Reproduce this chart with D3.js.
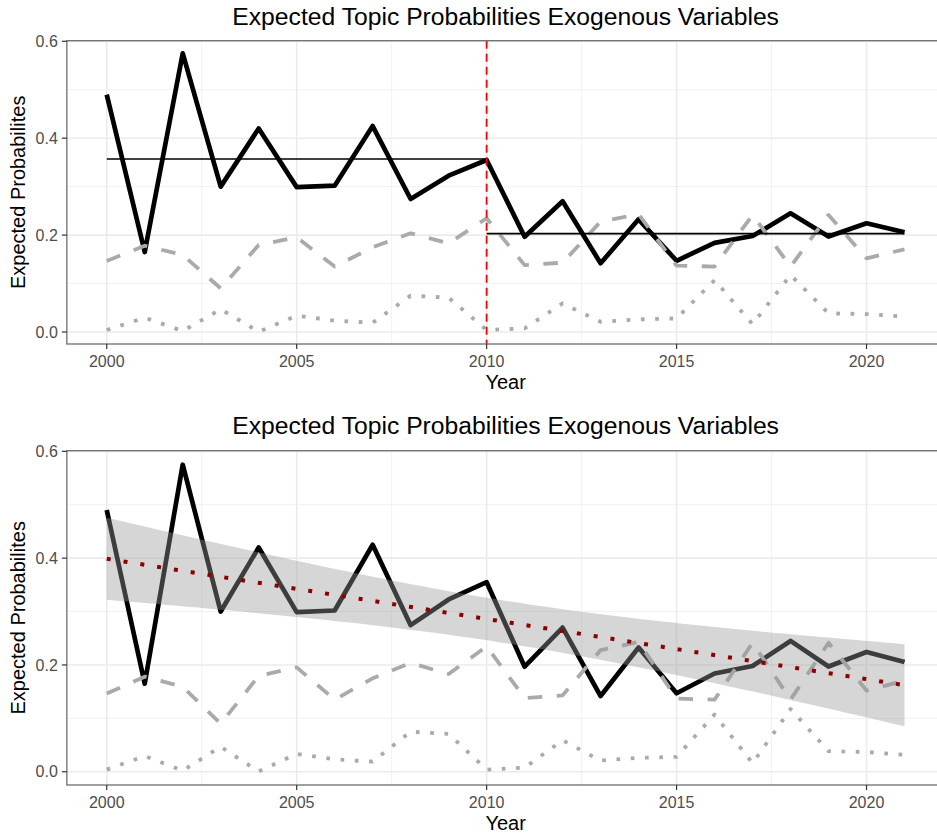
<!DOCTYPE html>
<html>
<head>
<meta charset="utf-8">
<script src="https://cdn.jsdelivr.net/npm/d3@7"></script>
<style>
  html, body { margin: 0; padding: 0; background: #ffffff; }
  svg { display: block; font-family: "Liberation Sans", Arial, sans-serif; }
</style>
</head>
<body>
<svg id="chart" width="937" height="837"></svg>
<script>
// ---- data ----
const years = [2000, 2001, 2002, 2003, 2004, 2005, 2006, 2007, 2008, 2009, 2010,
               2011, 2012, 2013, 2014, 2015, 2016, 2017, 2018, 2019, 2020, 2021];
const topicMain = [0.490, 0.165, 0.575, 0.300, 0.420, 0.299, 0.302, 0.425, 0.2745, 0.3226, 0.355,
                   0.1967, 0.270, 0.1418, 0.2326, 0.147, 0.184, 0.198, 0.245, 0.197, 0.2243, 0.2057];
const topicDashed = [0.1465, 0.178, 0.159, 0.090, 0.1796, 0.1954, 0.135, 0.175, 0.2037, 0.183, 0.2347,
                     0.138, 0.143, 0.2277, 0.243, 0.137, 0.135, 0.2415, 0.135, 0.2415, 0.152, 0.1707];
const topicDotted = [0.004, 0.0295, 0.002, 0.0468, 0.0006, 0.0336, 0.0233, 0.019, 0.075, 0.0708, 0.004,
                     0.0076, 0.059, 0.021, 0.026, 0.028, 0.107, 0.016, 0.1176, 0.0385, 0.037, 0.0316];
// period means (horizontal segments in the first panel)
const periodStart = [2000, 2010];
const periodEnd = [2010, 2021];
const periodMean = [0.357, 0.203];
const breakYear = 2010;
const xTicks = [2000, 2005, 2010, 2015, 2020];
const xMinor = [2002.5, 2007.5, 2012.5, 2017.5];
const yTicks = [0.0, 0.2, 0.4, 0.6];
const yMinor = [0.1, 0.3, 0.5];
const titleText = "Expected Topic Probabilities Exogenous Variables";
const xLabel = "Year";
const yLabel = "Expected Probabilites";

const svg = d3.select("#chart");
const xDomain = [1998.95, 2022.05];
const yDomain = [-0.0248, 0.6012];

function drawPanel(opt) {
  const x = d3.scaleLinear().domain(xDomain).range([66.85, 944.4]);
  const y = d3.scaleLinear().domain(yDomain).range([opt.bottom, opt.top]);
  const g = svg.append("g");
  const pw = x.range()[1] - x.range()[0];

  // clip
  const cid = "clip" + opt.id;
  svg.append("defs").append("clipPath").attr("id", cid)
    .append("rect").attr("x", x.range()[0]).attr("y", opt.top)
    .attr("width", pw).attr("height", opt.bottom - opt.top);

  const grid = g.append("g");
  grid.selectAll(".ymin").data(yMinor).join("line")
    .attr("x1", x.range()[0]).attr("x2", x.range()[1])
    .attr("y1", d => y(d)).attr("y2", d => y(d))
    .attr("stroke", "#f1f1f1").attr("stroke-width", 1);
  grid.selectAll(".xmin").data(xMinor).join("line")
    .attr("y1", opt.top).attr("y2", opt.bottom)
    .attr("x1", d => x(d)).attr("x2", d => x(d))
    .attr("stroke", "#f1f1f1").attr("stroke-width", 1);
  grid.selectAll(".ymaj").data(yTicks).join("line")
    .attr("x1", x.range()[0]).attr("x2", x.range()[1])
    .attr("y1", d => y(d)).attr("y2", d => y(d))
    .attr("stroke", "#ebebeb").attr("stroke-width", 1.6);
  grid.selectAll(".xmaj").data(xTicks).join("line")
    .attr("y1", opt.top).attr("y2", opt.bottom)
    .attr("x1", d => x(d)).attr("x2", d => x(d))
    .attr("stroke", "#ebebeb").attr("stroke-width", 1.6);

  const data = years.map((yr, i) => ({yr, a: topicMain[i], b: topicDashed[i], c: topicDotted[i]}));
  const plot = g.append("g").attr("clip-path", `url(#${cid})`);

  const lineA = d3.line().x(d => x(d.yr)).y(d => y(d.a));
  const lineB = d3.line().x(d => x(d.yr)).y(d => y(d.b));
  const lineC = d3.line().x(d => x(d.yr)).y(d => y(d.c));

  plot.append("path").datum(data).attr("d", lineA)
    .attr("fill", "none").attr("stroke", "#000").attr("stroke-width", 4.7)
    .attr("stroke-linejoin", "round");
  plot.append("path").datum(data).attr("d", lineB)
    .attr("fill", "none").attr("stroke", "#aaaaaa").attr("stroke-width", 3.8)
    .attr("stroke-dasharray", "14.5,14.5").attr("stroke-linejoin", "round");
  plot.append("path").datum(data).attr("d", lineC)
    .attr("fill", "none").attr("stroke", "#aaaaaa").attr("stroke-width", 3.8)
    .attr("stroke-dasharray", "3.7,10.6").attr("stroke-linejoin", "round");

  if (opt.kind === "means") {
    plot.selectAll(".mean").data(periodMean).join("line")
      .attr("x1", (d, i) => x(periodStart[i])).attr("x2", (d, i) => x(periodEnd[i]))
      .attr("y1", d => y(d)).attr("y2", d => y(d))
      .attr("stroke", "#000").attr("stroke-width", 1.6);
    plot.append("line")
      .attr("x1", x(breakYear)).attr("x2", x(breakYear))
      .attr("y1", opt.top).attr("y2", opt.bottom)
      .attr("stroke", "#ff0000").attr("stroke-width", 1.8)
      .attr("stroke-dasharray", "8,5");
  } else {
    // linear regression with 95% confidence band (as geom_smooth(method = "lm"))
    const n = years.length;
    const mx = d3.mean(years), my = d3.mean(topicMain);
    const sxx = d3.sum(years, v => (v - mx) * (v - mx));
    const sxy = d3.sum(years, (v, i) => (v - mx) * (topicMain[i] - my));
    const slope = sxy / sxx, icpt = my - slope * mx;
    const sse = d3.sum(years, (v, i) => Math.pow(topicMain[i] - (icpt + slope * v), 2));
    const s = Math.sqrt(sse / (n - 2));
    const tCrit = 2.086; // t(0.975, df = 20)
    const grid80 = d3.range(80).map(k => years[0] + (years[n - 1] - years[0]) * k / 79);
    const band = grid80.map(xv => {
      const fit = icpt + slope * xv;
      const se = s * Math.sqrt(1 / n + (xv - mx) * (xv - mx) / sxx);
      return {xv, fit, lo: fit - tCrit * se, hi: fit + tCrit * se};
    });
    plot.append("path").datum(band)
      .attr("d", d3.area().x(d => x(d.xv)).y0(d => y(d.lo)).y1(d => y(d.hi)))
      .attr("fill", "#999999").attr("fill-opacity", 0.4);
    plot.append("path").datum(band)
      .attr("d", d3.line().x(d => x(d.xv)).y(d => y(d.fit)))
      .attr("fill", "none").attr("stroke", "#8b0000").attr("stroke-width", 4)
      .attr("stroke-dasharray", "4,13");
  }

  // panel border / axes
  g.append("rect").attr("x", x.range()[0]).attr("y", opt.top)
    .attr("width", pw).attr("height", opt.bottom - opt.top)
    .attr("fill", "none").attr("stroke", "#6e6e6e").attr("stroke-width", 1.3);

  // y axis
  const ya = g.append("g");
  ya.selectAll("line").data(yTicks).join("line")
    .attr("x1", x.range()[0] - 5).attr("x2", x.range()[0])
    .attr("y1", d => y(d)).attr("y2", d => y(d))
    .attr("stroke", "#333").attr("stroke-width", 1.2);
  ya.selectAll("text").data(yTicks).join("text")
    .attr("x", x.range()[0] - 9).attr("y", d => y(d)).attr("dy", "0.35em")
    .attr("text-anchor", "end").attr("fill", "#4d4d4d").attr("font-size", 16)
    .text(d => d3.format(".1f")(d));
  // x axis
  const xa = g.append("g");
  xa.selectAll("line").data(xTicks).join("line")
    .attr("x1", d => x(d)).attr("x2", d => x(d))
    .attr("y1", opt.bottom).attr("y2", opt.bottom + 5)
    .attr("stroke", "#333").attr("stroke-width", 1.2);
  xa.selectAll("text").data(xTicks).join("text")
    .attr("x", d => x(d)).attr("y", opt.bottom + 22.5)
    .attr("text-anchor", "middle").attr("fill", "#4d4d4d").attr("font-size", 16)
    .text(d => d);

  const cx = (x.range()[0] + x.range()[1]) / 2;
  g.append("text").attr("x", cx).attr("y", opt.bottom + 45)
    .attr("text-anchor", "middle").attr("font-size", 20).attr("fill", "#000").text(xLabel);
  g.append("text")
    .attr("transform", `translate(24.5,${(opt.top + opt.bottom) / 2}) rotate(-90)`)
    .attr("text-anchor", "middle").attr("font-size", 20).attr("fill", "#000").text(yLabel);
  g.append("text").attr("x", cx).attr("y", opt.titleY)
    .attr("text-anchor", "middle").attr("font-size", 24.7).attr("fill", "#000").text(titleText);
}

drawPanel({id: 1, top: 40.7, bottom: 344, titleY: 25, kind: "means"});
drawPanel({id: 2, top: 450.7, bottom: 785, titleY: 434, kind: "smooth"});
</script>
</body>
</html>
